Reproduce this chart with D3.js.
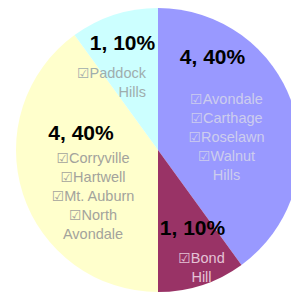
<!DOCTYPE html>
<html>
<head>
<meta charset="utf-8">
<script src="https://cdn.jsdelivr.net/npm/d3@7.9.0/dist/d3.min.js"></script>
<style>
  html, body { margin: 0; padding: 0; background: #fff; overflow: hidden; }
  svg { display: block; }
</style>
</head>
<body>
<svg id="chart" width="291" height="293"></svg>
<script>
// slice data, clockwise from 12 o'clock
const groups = ["A", "B", "C", "D"];
const counts = [4, 1, 4, 1];
const percents = [40, 10, 40, 10];
const members = [
  ["Avondale", "Carthage", "Roselawn", "Walnut|Hills"],
  ["Bond|Hill"],
  ["Corryville", "Hartwell", "Mt. Auburn", "North|Avondale"],
  ["Paddock|Hills"]
];

const colors = ["#9999ff", "#993366", "#ffffcc", "#ccffff"];
const nameColors = ["#cdcdee", "#e4c3d6", "#a3a39c", "#9fadad"];

// label anchors relative to pie centre (value label, first name line)
const layout = [
  { vx: 54.5, vy: -86, nx: 68.5, ny: -46, anchor: "middle" },
  { vx: 34.5, vy: 85, nx: 43.5, ny: 113, anchor: "middle" },
  { vx: -77, vy: -10, nx: -65, ny: 13, anchor: "middle" },
  { vx: -35.5, vy: -100, nx: -12, ny: -72, anchor: "end" }
];

const svg = d3.select("#chart");
const cx = 158, cy = 150, radius = 142;
const g = svg.append("g").attr("transform", `translate(${cx},${cy})`);

const pie = d3.pie().sort(null).value(d => d.count);
const arc = d3.arc().innerRadius(0).outerRadius(radius);

const data = groups.map((k, i) => ({ key: k, count: counts[i], pct: percents[i], names: members[i], i }));

g.selectAll("path.slice")
  .data(pie(data))
  .enter()
  .append("path")
  .attr("class", "slice")
  .attr("d", arc)
  .attr("fill", d => colors[d.data.i]);

const labels = g.selectAll("g.lbl")
  .data(pie(data))
  .enter()
  .append("g")
  .attr("class", "lbl");

labels.append("text")
  .attr("x", d => layout[d.data.i].vx)
  .attr("y", d => layout[d.data.i].vy)
  .attr("text-anchor", "middle")
  .attr("font-family", "Liberation Sans, Arial, sans-serif")
  .attr("font-weight", "bold")
  .attr("font-size", "21px")
  .attr("fill", "#000")
  .text(d => `${d.data.count}, ${d.data.pct}%`);

labels.each(function(d) {
  const L = layout[d.data.i];
  const lines = [];
  d.data.names.forEach(n => {
    const parts = n.split("|");
    lines.push({ box: true, t: parts[0] });
    parts.slice(1).forEach(p => lines.push({ box: false, t: p }));
  });
  const txt = d3.select(this).selectAll("text.name")
    .data(lines)
    .enter()
    .append("text")
    .attr("class", "name")
    .attr("x", L.nx)
    .attr("y", (t, j) => L.ny + j * 19)
    .attr("text-anchor", L.anchor)
    .attr("font-family", "Liberation Sans, Arial, sans-serif")
    .attr("font-size", "14.5px")
    .attr("fill", nameColors[d.data.i]);
  txt.filter(t => t.box).append("tspan")
    .attr("font-family", "DejaVu Sans, sans-serif")
    .attr("font-size", "14px")
    .text("\u2611");
  txt.append("tspan").text(t => t.t);
});
</script>
</body>
</html>
